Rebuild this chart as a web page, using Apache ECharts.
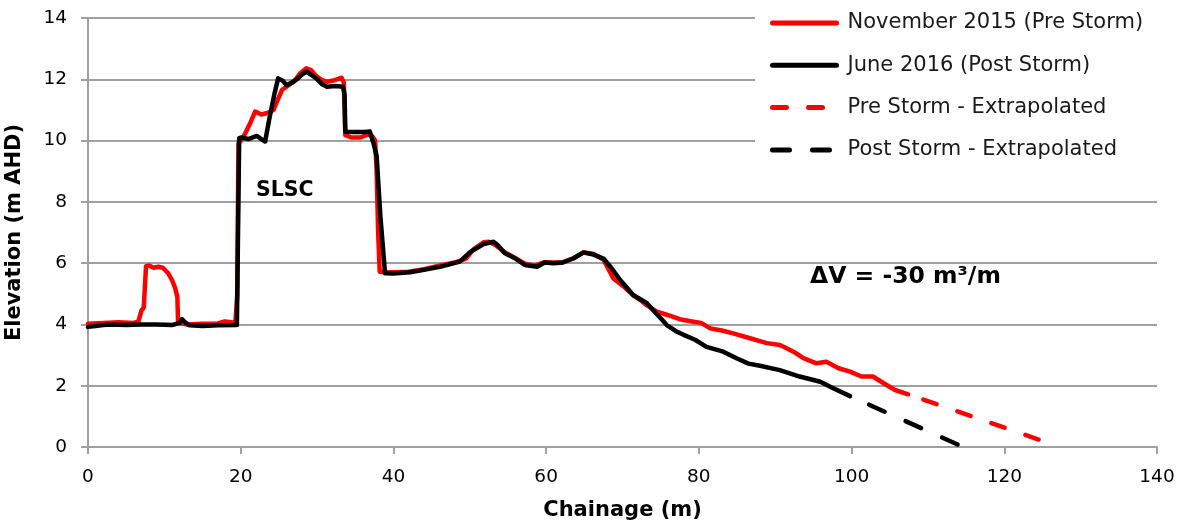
<!DOCTYPE html>
<html>
<head>
<meta charset="utf-8">
<script src="https://cdn.jsdelivr.net/npm/echarts@6/dist/echarts.min.js"></script>
<style>html,body{margin:0;padding:0;background:#fff;}#c{width:1192px;height:528px;}</style>
</head>
<body>
<div id="c"></div>
<script>
const xTicks = [0, 20, 40, 60, 80, 100, 120, 140];
const yTicks = [0, 2, 4, 6, 8, 10, 12, 14];
const seriesNames = ['November 2015 (Pre Storm)', 'June 2016 (Post Storm)', 'Pre Storm - Extrapolated', 'Post Storm - Extrapolated'];

const preStorm = [[0,4.02],[2,4.05],[4,4.07],[6,4.05],[6.6,4.1],[7.0,4.45],[7.3,4.55],[7.6,5.9],[8.0,5.92],[8.6,5.85],[9.2,5.88],[9.8,5.85],[10.5,5.67],[11.0,5.45],[11.4,5.2],[11.7,4.9],[11.8,4.05],[13,4.0],[15,4.02],[17,4.03],[17.9,4.1],[18.5,4.08],[19.3,4.05],[19.55,5],[19.7,9.9],[20.2,10.05],[20.6,10.24],[21.3,10.6],[21.9,10.95],[22.7,10.85],[23.5,10.9],[24.3,11.0],[24.8,11.3],[25.4,11.65],[26.5,11.85],[27.2,12.0],[27.8,12.2],[28.6,12.36],[29.2,12.3],[29.9,12.1],[30.6,11.98],[31.3,11.92],[32.0,11.95],[32.6,12.0],[33.2,12.05],[33.5,11.9],[33.7,10.18],[34.5,10.1],[35.7,10.1],[36.7,10.2],[37.2,10.15],[37.6,10.0],[37.8,9.0],[38.0,7],[38.2,5.72],[39,5.7],[40,5.7],[42,5.72],[44,5.8],[46,5.92],[48,6.02],[49.5,6.15],[50.5,6.45],[51.8,6.68],[52.5,6.7],[53.3,6.6],[54.6,6.35],[55.9,6.18],[57.2,5.98],[58.5,5.92],[59.8,6.03],[61,6.02],[62.2,6.03],[63.6,6.16],[64.9,6.35],[66.2,6.3],[67.5,6.12],[68.8,5.5],[70.1,5.25],[71.4,4.95],[72.6,4.75],[73.2,4.62],[74.5,4.42],[76,4.3],[77.5,4.17],[79.3,4.09],[80.3,4.05],[81.5,3.87],[83,3.8],[84.5,3.71],[86.7,3.55],[88.9,3.39],[90.6,3.33],[91.1,3.27],[92.4,3.11],[93.7,2.9],[95.4,2.73],[96.7,2.78],[98.3,2.57],[99.8,2.46],[101.3,2.3],[102.8,2.3],[104.2,2.08],[105.7,1.86],[107.4,1.72]];

const postStorm = [[0,3.92],[1,3.95],[2,3.98],[3,4.0],[5,3.98],[7,4.0],[9,4.0],[11,3.98],[12.0,4.05],[12.3,4.17],[12.8,4.05],[13.3,3.97],[15,3.95],[17,3.97],[19.5,3.98],[19.7,4.0],[19.8,10.08],[20.1,10.1],[21.0,10.05],[22.1,10.15],[22.7,10.05],[23.2,9.97],[23.8,10.78],[24.4,11.5],[24.9,12.03],[25.5,11.95],[26.0,11.81],[26.8,11.9],[27.5,12.03],[28.0,12.15],[28.6,12.25],[29.2,12.15],[29.9,12.03],[30.6,11.85],[31.3,11.76],[32.4,11.78],[33.4,11.76],[33.6,11.5],[33.7,10.29],[35,10.28],[36.3,10.28],[36.9,10.3],[37.4,9.9],[37.8,9.5],[38.3,7.5],[38.9,5.67],[40,5.66],[42.2,5.7],[44,5.78],[46.1,5.88],[48.7,6.05],[50.0,6.35],[50.5,6.43],[51.8,6.62],[53.1,6.7],[53.6,6.6],[54.6,6.32],[55.9,6.16],[57.2,5.94],[58.8,5.88],[59.8,6.02],[61,6.0],[62.2,6.02],[63.6,6.16],[64.9,6.35],[66.2,6.28],[67.5,6.15],[68.4,5.89],[69.7,5.45],[71.4,4.96],[73.2,4.69],[74.0,4.47],[75.0,4.2],[75.8,3.98],[77,3.78],[78.0,3.66],[79.5,3.5],[81.0,3.27],[83.2,3.11],[85.0,2.89],[86.5,2.72],[88,2.65],[90.6,2.51],[93.2,2.30],[95.9,2.13],[97.6,1.92],[99.8,1.66]];

const preExtrap = [[109.4,1.55],[125.0,0.2]];
const postExtrap = [[102.3,1.38],[114.6,0.0]];

const FONT = '"DejaVu Sans", Verdana, sans-serif';
const chart = echarts.init(document.getElementById('c'), null, {renderer: 'canvas'});

function lineSeries(name, data, color, dash) {
  return {
    name: name, type: 'line', data: data, showSymbol: false, symbol: 'none',
    smooth: false, animation: false, z: dash ? 2 : 3,
    lineStyle: {color: color, width: 4.5, type: dash || 'solid', cap: 'round', join: 'round'},
    itemStyle: {color: color}
  };
}

chart.setOption({
  backgroundColor: '#ffffff',
  animation: false,
  grid: {left: 88, right: 35, top: 18, bottom: 81, containLabel: false, outerBoundsMode: 'none'},
  xAxis: {
    type: 'value', min: 0, max: 140, interval: 20,
    name: 'Chainage (m)', nameLocation: 'middle', nameGap: 53,
    nameTextStyle: {fontFamily: FONT, fontWeight: 'bold', fontSize: 21, color: '#000'},
    axisLine: {show: true, lineStyle: {color: '#a0a0a0', width: 2}},
    axisTick: {show: true, length: 7, lineStyle: {color: '#a0a0a0', width: 2}},
    axisLabel: {fontFamily: FONT, fontSize: 18.5, color: '#000', margin: 21,
      formatter: function (v) { return xTicks.indexOf(v) >= 0 ? String(v) : ''; }},
    splitLine: {show: false}
  },
  yAxis: {
    type: 'value', min: 0, max: 14, interval: 2,
    name: 'Elevation (m AHD)', nameLocation: 'middle', nameGap: 63, nameRotate: 90,
    nameTextStyle: {fontFamily: FONT, fontWeight: 'bold', fontSize: 21, color: '#000'},
    axisLine: {show: true, lineStyle: {color: '#a0a0a0', width: 2}},
    axisTick: {show: true, length: 7, lineStyle: {color: '#a0a0a0', width: 2}},
    axisLabel: {fontFamily: FONT, fontSize: 18.5, color: '#000', margin: 21,
      formatter: function (v) { return yTicks.indexOf(v) >= 0 ? String(v) : ''; }},
    splitLine: {show: true, lineStyle: {color: '#a0a0a0', width: 2}}
  },
  graphic: [
    {type: 'rect', z: 50, silent: true, shape: {x: 755, y: 0, width: 437, height: 170}, style: {fill: '#ffffff'}},
    {type: 'text', z: 60, left: 256, top: 180, style: {text: 'SLSC', font: 'bold 20.5px ' + FONT, fill: '#000'}},
    {type: 'text', z: 60, left: 810, top: 265, style: {text: 'ΔV = -30 m³/m', font: 'bold 23.5px ' + FONT, fill: '#000'}}
  ],
  legend: {
    orient: 'vertical', left: 765, top: 6, z: 100,
    itemWidth: 64, itemHeight: 24, itemGap: 18.3,
    itemStyle: {opacity: 0},
    textStyle: {fontFamily: FONT, fontSize: 21, color: '#1a1a1a', lineHeight: 24, padding: [0, 0, 0, 6]},
    lineStyle: {width: 5},
    data: seriesNames.map(function (n) { return {name: n}; })
  },
  series: [
    lineSeries(seriesNames[0], preStorm, '#ff0000', null),
    lineSeries(seriesNames[1], postStorm, '#000000', null),
    lineSeries(seriesNames[2], preExtrap, '#ff0000', [14, 22]),
    lineSeries(seriesNames[3], postExtrap, '#000000', [17, 23])
  ]
});
</script>
</body>
</html>
